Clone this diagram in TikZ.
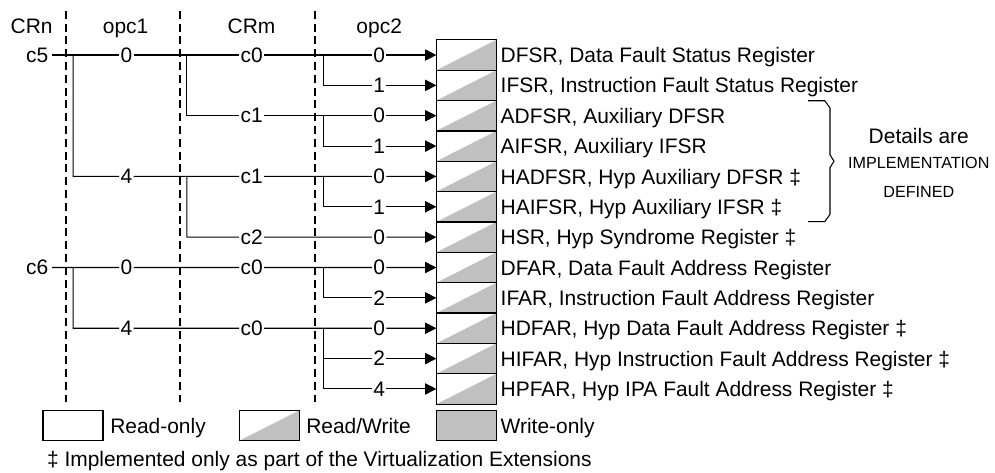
\documentclass[tikz,border=0pt]{standalone}
\usepackage{fontspec}
\setmainfont{Liberation Sans}
\usetikzlibrary{arrows.meta}
\definecolor{rwgray}{RGB}{192,192,192}

\begin{document}
\begin{tikzpicture}[
    font=\fontsize{14.9}{18}\selectfont,
    reg/.style={rectangle, draw, line width=0.9pt, minimum width=1.5cm, minimum height=0.759cm, inner sep=0pt, outer sep=0pt},
    rwreg/.style={reg, path picture={\fill[rwgray] (path picture bounding box.south west) -- (path picture bounding box.north east) -- (path picture bounding box.south east) -- cycle;}},
    woreg/.style={reg, fill=rwgray},
    lbl/.style={inner sep=0.8pt},
    crnlbl/.style={inner sep=2.5pt},
    col/.style={anchor=base, inner sep=0pt},
    regtext/.style={anchor=base west, inner sep=0pt},
    divider/.style={line width=1.7pt, dash pattern=on 0.2cm off 0.12cm},
    wire/.style={-{Triangle[length=0.28cm, width=0.28cm]}, line width=0.75pt},
    brc/.style={line width=0.75pt}
  ]
    \useasboundingbox (0,0) rectangle (24.875,-11.8);

    \node[col] (hcrn) at (0.79,-0.833) {CRn};
    \node[col] (hopc1) at (3.14,-0.833) {opc1};
    \node[col] (hcrm) at (6.29,-0.833) {CRm};
    \node[col] (hopc2) at (9.48,-0.833) {opc2};

    \foreach \x in {1.65,4.5,7.875}
      \draw[divider] (\x,-0.27) -- (\x,-10.04);

    \foreach \i/\txt in {1/{DFSR, Data Fault Status Register}, 2/{IFSR, Instruction Fault Status Register},
        3/{ADFSR, Auxiliary DFSR}, 4/{AIFSR, Auxiliary IFSR}, 5/{HADFSR, Hyp Auxiliary DFSR ‡},
        6/{HAIFSR, Hyp Auxiliary IFSR ‡}, 7/{HSR, Hyp Syndrome Register ‡}, 8/{DFAR, Data Fault Address Register},
        9/{IFAR, Instruction Fault Address Register}, 10/{HDFAR, Hyp Data Fault Address Register ‡},
        11/{HIFAR, Hyp Instruction Fault Address Register ‡}, 12/{HPFAR, Hyp IPA Fault Address Register ‡}} {
      \node[rwreg] (reg\i) at (11.66,{-1.375-0.759*(\i-1)}) {};
      \node[regtext] (name\i) at ([xshift=0.1cm, yshift=-0.19cm]reg\i.east) {\txt};
    }

    \foreach \i/\v in {1/0,2/1,3/0,4/1,5/0,6/1,7/0,8/0,9/2,10/0,11/2,12/4}
      \node[lbl] (op2r\i) at (9.48,{-1.375-0.759*(\i-1)}) {\v};

    \node[crnlbl] (crn5) at (0.93,-1.375) {c5};
    \node[crnlbl] (crn6) at (0.93,-6.688) {c6};

    \node[lbl] (op1r1) at (3.16,-1.375) {0};
    \node[lbl] (op1r5) at (3.16,-4.411) {4};
    \node[lbl] (op1r8) at (3.16,-6.688) {0};
    \node[lbl] (op1r10) at (3.16,-8.206) {4};

    \node[lbl] (crm1) at (6.29,-1.375) {c0};
    \node[lbl] (crm3) at (6.29,-2.893) {c1};
    \node[lbl] (crm5) at (6.29,-4.411) {c1};
    \node[lbl] (crm7) at (6.29,-5.929) {c2};
    \node[lbl] (crm8) at (6.29,-6.688) {c0};
    \node[lbl] (crm10) at (6.29,-8.206) {c0};

    \coordinate (j1) at (1.83,-1.375);
    \coordinate (j8) at (1.83,-6.688);
    \coordinate (k1) at (4.67,-1.375);
    \coordinate (k5) at (4.67,-4.411);
    \coordinate (q1) at (8.08,-1.375);
    \coordinate (q3) at (8.08,-2.893);
    \coordinate (q5) at (8.08,-4.411);
    \coordinate (q8) at (8.08,-6.688);
    \coordinate (q10) at (8.08,-8.206);

    \draw[wire] (crn5) -- (op1r1) -- (crm1) -- (op2r1) -- (reg1);
    \draw[wire] (q1) |- (op2r2) -- (reg2);
    \draw[wire] (k1) |- (crm3) -- (op2r3) -- (reg3);
    \draw[wire] (q3) |- (op2r4) -- (reg4);
    \draw[wire] (j1) |- (op1r5) -- (crm5) -- (op2r5) -- (reg5);
    \draw[wire] (q5) |- (op2r6) -- (reg6);
    \draw[wire] (k5) |- (crm7) -- (op2r7) -- (reg7);
    \draw[wire] (crn6) -- (op1r8) -- (crm8) -- (op2r8) -- (reg8);
    \draw[wire] (q8) |- (op2r9) -- (reg9);
    \draw[wire] (j8) |- (op1r10) -- (crm10) -- (op2r10) -- (reg10);
    \draw[wire] (q10) |- (op2r11) -- (reg11);
    \draw[wire] (q10) |- (op2r12) -- (reg12);

    \draw[brc] (20.2,-2.518) -- (20.62,-2.518) -- (20.75,-2.7) -- (20.75,-3.87) -- (20.85,-4.03)
      -- (20.75,-4.19) -- (20.75,-5.36) -- (20.62,-5.54) -- (20.2,-5.54);
    \node (det) at (22.97,-3.41) {Details are};
    \node[font=\fontsize{11.5}{20.3}\selectfont, align=center] (impl) at (22.97,-4.43) {IMPLEMENTATION\\DEFINED};

    \node[reg] (ro) at (1.825,-10.635) {};
    \node[regtext] (rotext) at ([xshift=0.175cm, yshift=-0.19cm]ro.east) {Read-only};
    \node[rwreg] (rw) at (6.74,-10.635) {};
    \node[regtext] (rwtext) at ([xshift=0.16cm, yshift=-0.19cm]rw.east) {Read/Write};
    \node[woreg] (wo) at (11.66,-10.635) {};
    \node[regtext] (wotext) at ([xshift=0.1cm, yshift=-0.19cm]wo.east) {Write-only};

    \node[regtext] (foot) at (1.17,-11.67) {‡ Implemented only as part of the Virtualization Extensions};
  \end{tikzpicture}
\end{document}
